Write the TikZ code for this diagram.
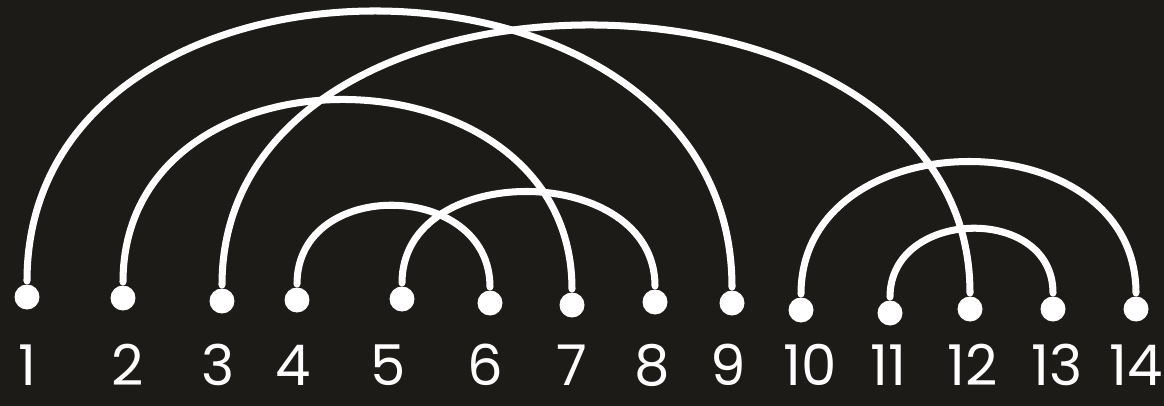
\documentclass[tikz,border=0pt]{standalone}
\usepackage{fontspec}
\setmainfont{Poppins}
\usetikzlibrary{positioning}
\definecolor{cboard}{HTML}{1D1B17}
\definecolor{cchalk}{HTML}{FFFFFF}
\tikzset{
  every picture/.style={x=0.02cm, y=-0.02cm, line width=4pt},
  dot/.style={circle, fill=cchalk, inner sep=0pt, minimum width=0.44cm, minimum height=0.5cm},
  link/.style={draw=cchalk, line cap=round},
  num/.style={text=cchalk, anchor=base, inner sep=0pt, font=\fontsize{32}{32}\selectfont},
}
\begin{document}
\begin{tikzpicture}
  \fill[cboard] (0,0) rectangle (1164,406);
  \useasboundingbox (0,0) rectangle (1164,406);
  % points and their labels
  \foreach \i/\x/\y/\lx in {1/27/297/27, 2/123/298/128, 3/222/301/218, 4/297/300/293,
      5/402/299/388, 6/490/303/485, 7/572/305/572, 8/655/302/652, 9/732/303/728,
      10/801/310/810, 11/890/313/888, 12/970/309/973, 13/1053/309/1057, 14/1136/309/1136} {
    \node[dot] (p\i) at (\x,\y) {};
    \node[num] (n\i) at (\lx,385) {\i};
  }
  % arcs
  \draw[link] (p1) .. controls +(0,-380) and +(0,-380) .. (p9);
  \draw[link] (p3) .. controls +(0,-368) and +(0,-368) .. (p12);
  \draw[link] (p2) .. controls +(0,-264) and +(0,-264) .. (p7);
  \draw[link] (p4) .. controls +(0,-123) and +(0,-123) .. (p6);
  \draw[link] (p5) .. controls +(0,-140) and +(0,-140) .. (p8);
  \draw[link] (p10) .. controls +(0,-192) and +(0,-192) .. (p14);
  \draw[link] (p11) .. controls +(0,-105) and +(0,-105) .. (p13);
\end{tikzpicture}
\end{document}
